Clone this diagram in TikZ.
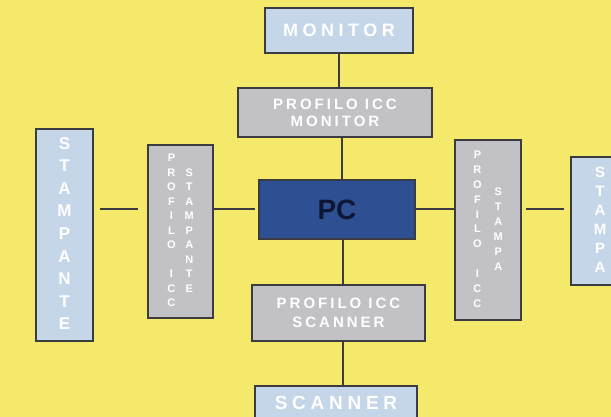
\documentclass[tikz,border=0pt]{standalone}
\usepackage{fontspec}
\setmainfont{Liberation Sans}
\definecolor{bgy}{HTML}{F5E96C}
\definecolor{lblue}{HTML}{C6D6E9}
\definecolor{lgray}{HTML}{C2C2C6}
\definecolor{pcblue}{HTML}{2F4F93}
\definecolor{edge}{HTML}{3C3C40}
\definecolor{pctext}{HTML}{0D1733}
\newcommand\stk[1]{\begin{tabular}[c]{@{}c@{}}#1\end{tabular}}
\tikzset{
  box/.style={draw=edge, line width=1.8pt, inner sep=0pt, text=white, font=\bfseries},
  bluebox/.style={box, fill=lblue},
  graybox/.style={box, fill=lgray},
  link/.style={draw=edge, line width=2pt},
}
\begin{document}
\begin{tikzpicture}[x=1pt,y=-1pt]
\useasboundingbox[fill=bgy] (0,0) rectangle (611,417);
\clip (0,0) rectangle (611,417);
% top
\node[bluebox, minimum width=148pt, minimum height=45pt,
  font=\bfseries\fontsize{18}{20}\selectfont\addfontfeature{LetterSpace=25}] (mon) at (339,30.5) {MONITOR};
\node[graybox, minimum width=194pt, minimum height=49pt, align=center,
  font=\bfseries\fontsize{15}{17}\selectfont\addfontfeature{LetterSpace=20}] (pmon) at (335,112.5) {PROFILO ICC\\MONITOR};
% centre
\node[box, fill=pcblue, text=pctext, minimum width=156pt, minimum height=59pt,
  font=\bfseries\fontsize{28}{30}\selectfont] (pc) at (337,209.5) {PC};
% bottom
\node[graybox, minimum width=173pt, minimum height=56pt, align=center,
  font=\bfseries\fontsize{15}{19}\selectfont\addfontfeature{LetterSpace=20}] (psc) at (338.5,313) {PROFILO ICC\\SCANNER};
\node[bluebox, minimum width=162pt, minimum height=34pt,
  font=\bfseries\fontsize{19}{21}\selectfont\addfontfeature{LetterSpace=25}] (sc) at (336,403) {SCANNER};
% left
\node[bluebox, minimum width=57pt, minimum height=212pt,
  font=\bfseries\fontsize{17}{22.6}\selectfont] (stp) at (64.5,235)
  {\stk{S\\T\\A\\M\\P\\A\\N\\T\\E}};
\node[graybox, minimum width=65pt, minimum height=173pt,
  font=\bfseries\fontsize{11}{14.5}\selectfont] (pst) at (180.5,231.5)
  {\begin{tabular}{@{}c@{\hspace{9pt}}c@{}}\stk{P\\R\\O\\F\\I\\L\\O\\~\\I\\C\\C} & \stk{S\\T\\A\\M\\P\\A\\N\\T\\E}\end{tabular}};
% right
\node[graybox, minimum width=66pt, minimum height=180pt,
  font=\bfseries\fontsize{11}{15}\selectfont] (psa) at (488,230)
  {\begin{tabular}{@{}c@{\hspace{12pt}}c@{}}\stk{P\\R\\O\\F\\I\\L\\O\\~\\I\\C\\C} & \stk{S\\T\\A\\M\\P\\A}\end{tabular}};
\node[bluebox, minimum width=58pt, minimum height=128pt,
  font=\bfseries\fontsize{15}{19}\selectfont] (sta) at (600,221)
  {\stk{S\\T\\A\\M\\P\\A}};
% connectors
\draw[link] (mon.south) -- (mon.south |- pmon.north);
\draw[link] (pmon.south -| pc.north) ++(5,0) coordinate (a1) -- (a1 |- pc.north);
\draw[link] (pc.south) ++(6,0) coordinate (a2) -- (a2 |- psc.north);
\draw[link] (psc.south) ++(4,0) coordinate (a3) -- (a3 |- sc.north);
\draw[link, shorten <=6pt, shorten >=9pt] (stp.east |- pc.west) -- (pst.west |- pc.west);
\draw[link, shorten >=3pt] (pst.east |- pc.west) -- (pc.west);
\draw[link] (pc.east) -- (psa.west |- pc.east);
\draw[link, shorten <=4pt, shorten >=6pt] (psa.east |- pc.east) -- (sta.west |- pc.east);
\end{tikzpicture}
\end{document}
